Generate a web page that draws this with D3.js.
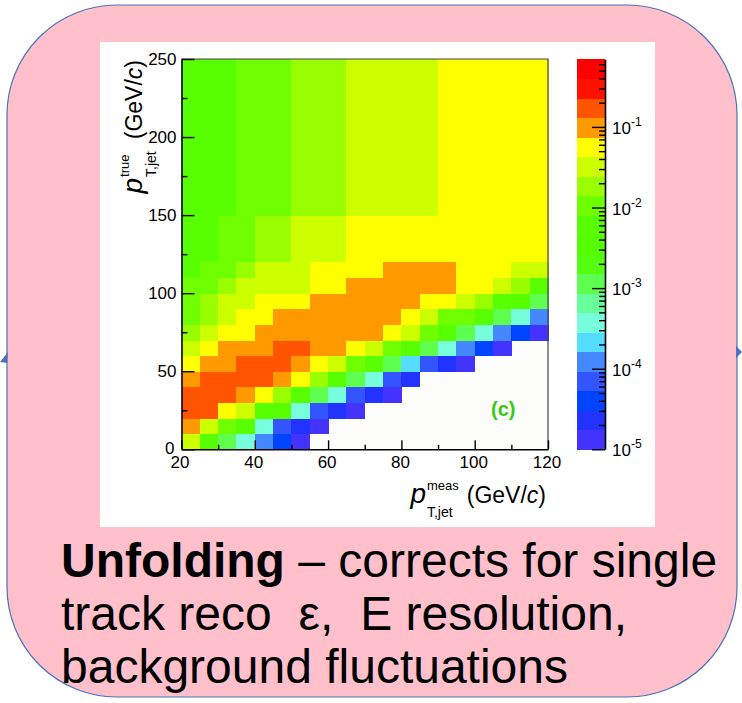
<!DOCTYPE html>
<html>
<head>
<meta charset="utf-8">
<script src="https://cdn.jsdelivr.net/npm/d3@7"></script>
<style>
  body { margin: 0; background: #fff; }
  svg { display: block; font-family: "Liberation Sans", Arial, Helvetica, sans-serif; }
</style>
</head>
<body>
<svg id="chart" width="742" height="703"></svg>
<script>
// bin edges (GeV/c)
const xEdges = [20, 25, 30, 35, 40, 45, 50, 55, 60, 65, 70, 75, 80, 85, 90, 95, 100, 105, 110, 115, 120];
const yEdges = [0, 10, 20, 30, 40, 50, 60, 70, 80, 90, 100, 110, 120, 150, 250];

// response matrix, one row per true bin (bottom -> top), one value per meas bin; null = empty
const response = [
  [0.03, 0.006, 0.001, 4e-4, 1.2e-4, 4e-5, 1.3e-5, null, null, null, null, null, null, null, null, null, null, null, null, null],
  [0.1, 0.03, 0.01, 0.006, 4e-4, 7e-5, 2.2e-5, 1.3e-5, null, null, null, null, null, null, null, null, null, null, null, null],
  [0.18, 0.18, 0.055, 0.03, 0.006, 0.006, 4e-4, 7e-5, 2.2e-5, 1.3e-5, null, null, null, null, null, null, null, null, null, null],
  [0.18, 0.18, 0.18, 0.1, 0.055, 0.018, 0.006, 0.001, 4e-4, 7e-5, 2.2e-5, 1.3e-5, null, null, null, null, null, null, null, null],
  [0.1, 0.18, 0.18, 0.18, 0.18, 0.1, 0.055, 0.018, 0.006, 0.001, 4e-4, 7e-5, 2.2e-5, null, null, null, null, null, null, null],
  [0.055, 0.1, 0.1, 0.18, 0.18, 0.18, 0.1, 0.055, 0.03, 0.01, 0.006, 0.001, 2e-4, 7e-5, 2.2e-5, 1.3e-5, null, null, null, null],
  [0.03, 0.055, 0.1, 0.1, 0.1, 0.18, 0.18, 0.1, 0.1, 0.055, 0.03, 0.01, 0.006, 0.001, 4e-4, 1.2e-4, 4e-5, 1.3e-5, null, null],
  [0.018, 0.03, 0.055, 0.055, 0.1, 0.1, 0.1, 0.1, 0.1, 0.1, 0.1, 0.055, 0.03, 0.01, 0.006, 0.001, 4e-4, 1.2e-4, 4e-5, 1.3e-5],
  [0.01, 0.018, 0.03, 0.055, 0.055, 0.1, 0.1, 0.1, 0.1, 0.1, 0.1, 0.1, 0.055, 0.03, 0.01, 0.01, 0.006, 0.001, 4e-4, 1.2e-4],
  [0.01, 0.018, 0.03, 0.03, 0.055, 0.055, 0.055, 0.1, 0.1, 0.1, 0.1, 0.1, 0.1, 0.055, 0.055, 0.03, 0.018, 0.006, 0.006, 0.001],
  [0.01, 0.01, 0.018, 0.03, 0.03, 0.03, 0.03, 0.055, 0.055, 0.1, 0.1, 0.1, 0.1, 0.1, 0.1, 0.055, 0.055, 0.03, 0.018, 0.006],
  [0.006, 0.01, 0.01, 0.018, 0.03, 0.03, 0.03, 0.055, 0.055, 0.055, 0.055, 0.1, 0.1, 0.1, 0.1, 0.055, 0.055, 0.055, 0.03, 0.03],
  [0.006, 0.006, 0.01, 0.01, 0.018, 0.018, 0.03, 0.03, 0.03, 0.055, 0.055, 0.055, 0.055, 0.055, 0.055, 0.055, 0.055, 0.055, 0.055, 0.055],
  [0.006, 0.006, 0.006, 0.01, 0.01, 0.01, 0.018, 0.018, 0.018, 0.03, 0.03, 0.03, 0.03, 0.03, 0.055, 0.055, 0.055, 0.055, 0.055, 0.055]
];

// 20-step palette, low -> high
const palette = ['#4433ff', '#2233ff', '#0044ff', '#3355ff', '#4488ff', '#55ddff', '#77ffdd', '#66ff99',
  '#5fff50', '#55ff11', '#55ff00', '#58ff00', '#70ff00', '#99ff00', '#ccff00', '#ffff00',
  '#ff9900', '#ff5500', '#ff1100', '#ff0000'];
const zRange = [1e-5, 0.69];

const xTicks = [20, 40, 60, 80, 100, 120];
const xMinor = [30, 50, 70, 90, 110];
const yTicks = [0, 50, 100, 150, 200, 250];
const yMinor = [25, 75, 125, 175, 225];
const zTicks = [1e-5, 1e-4, 1e-3, 1e-2, 1e-1];
const zExp = ['-5', '-4', '-3', '-2', '-1'];

const panelTag = '(c)';
const captionBold = 'Unfolding';
const captionLine1 = ' – corrects for single';
const captionLine2 = ['track reco', ' ε,', ' E resolution,'];
const captionLine3 = 'background fluctuations';

const svg = d3.select('#chart');

// pink rounded box + little connector marks
svg.append('rect')
  .attr('x', 7).attr('y', 5).attr('width', 730).attr('height', 692).attr('rx', 110)
  .attr('fill', '#ffc0cb').attr('stroke', '#4a72b8').attr('stroke-width', 1.2);
svg.append('path').attr('d', 'M0,362 L8,352 L7,363 Z').attr('fill', '#4a72b8');
svg.append('path').attr('d', 'M736,346 L742,352 L736,358 Z').attr('fill', '#4a72b8');

// white figure panel
svg.append('rect').attr('x', 100).attr('y', 42).attr('width', 555).attr('height', 485).attr('fill', '#fff');

const x = d3.scaleLinear().domain([20, 120]).range([181.5, 548]);
const y = d3.scaleLinear().domain([0, 250]).range([449.3, 59]);
const logDomain = [Math.log10(zRange[0]), Math.log10(zRange[1])];
const bandIdx = d3.scaleQuantize().domain(logDomain).range(d3.range(palette.length));
const color = v => palette[bandIdx(Math.log10(v))];

// plot background
svg.append('rect')
  .attr('x', x(20)).attr('y', y(250)).attr('width', x(120) - x(20)).attr('height', y(0) - y(250))
  .attr('fill', '#fdfdfb');

const cells = [];
response.forEach((row, r) => row.forEach((v, c) => {
  if (v != null) cells.push({ x0: xEdges[c], x1: xEdges[c + 1], y0: yEdges[r], y1: yEdges[r + 1], v });
}));

svg.append('g').attr('class', 'cells')
  .attr('shape-rendering', 'crispEdges')
  .selectAll('rect')
  .data(cells)
  .join('rect')
  .attr('x', d => x(d.x0))
  .attr('y', d => y(d.y1))
  .attr('width', d => x(d.x1) - x(d.x0) + 0.5)
  .attr('height', d => y(d.y0) - y(d.y1) + 0.5)
  .attr('fill', d => color(d.v));

// frame top/right
svg.append('path')
  .attr('d', `M${x(20)},${y(250)}H${x(120)}V${y(0)}`)
  .attr('fill', 'none').attr('stroke', '#444').attr('stroke-width', 1.2);

function styleAxis(g, size) {
  g.attr('font-family', null).attr('font-size', size);
  g.selectAll('path.domain').attr('stroke', '#000').attr('stroke-width', 1.6);
  g.selectAll('.tick line').attr('stroke', '#000').attr('stroke-width', 1.4);
  g.selectAll('.tick text').attr('fill', '#000');
}

// x axis
svg.append('g').attr('transform', `translate(0,${y(0)})`)
  .call(d3.axisBottom(x).tickValues(xMinor).tickSize(-4.5).tickSizeOuter(0).tickFormat(''))
  .call(g => g.select('.domain').remove())
  .call(g => styleAxis(g, 17));
svg.append('g').attr('transform', `translate(0,${y(0)})`)
  .call(d3.axisBottom(x).tickValues(xTicks).tickSize(-9).tickSizeOuter(0).tickPadding(7).tickFormat(d3.format('d')))
  .call(g => styleAxis(g, 17))
  .call(g => g.selectAll('.tick text').attr('dx', d => d === 20 ? -2 : -1.5));

// y axis
svg.append('g').attr('transform', `translate(${x(20)},0)`)
  .call(d3.axisLeft(y).tickValues(yMinor).tickSize(-6).tickSizeOuter(0).tickFormat(''))
  .call(g => g.select('.domain').remove())
  .call(g => styleAxis(g, 17));
svg.append('g').attr('transform', `translate(${x(20)},0)`)
  .call(d3.axisLeft(y).tickValues(yTicks).tickSize(-13).tickSizeOuter(0).tickPadding(5).tickFormat(d3.format('d')))
  .call(g => styleAxis(g, 17))
  .call(g => g.selectAll('.tick text').attr('dx', d => d === 0 ? -2 : 0).attr('dy', d => d === 0 ? '0.22em' : '0.32em'));

// axis titles: p with sup/sub, then (GeV/c)
function pTitle(g, sup, sub, gap) {
  const p = g.append('text').attr('x', 0).attr('y', 0).attr('font-size', 28).attr('font-style', 'italic').text('p');
  const pw = p.node().getComputedTextLength() + 1;
  const t1 = g.append('text').attr('x', pw).attr('y', -13).attr('font-size', 13).text(sup);
  const t2 = g.append('text').attr('x', pw).attr('y', 14).attr('font-size', 14).text(sub);
  const w = pw + Math.max(t1.node().getComputedTextLength(), t2.node().getComputedTextLength()) + gap;
  const u = g.append('text').attr('x', w).attr('y', 0).attr('font-size', 23);
  u.append('tspan').text('(GeV/');
  u.append('tspan').attr('font-style', 'italic').text('c');
  u.append('tspan').text(')');
  return w + u.node().getComputedTextLength();
}

const xt = svg.append('g');
const xw = pTitle(xt, 'meas', 'T,jet', 8);
xt.attr('transform', `translate(${546 - xw},503)`);

const yt = svg.append('g');
const yw = pTitle(yt, 'true', 'T,jet', 12);
yt.attr('transform', `translate(142,${60 + yw}) rotate(-90)`);

// panel tag
svg.append('text')
  .attr('x', 491).attr('y', 416)
  .attr('font-size', 20).attr('font-weight', 'bold').attr('fill', '#33cc11')
  .text(panelTag);

// colour bar
const z = d3.scaleLog().domain(zRange).range([449.3, 59.3]);
const zLog = d3.scaleLinear().domain(logDomain).range([449.3, 59.3]);
const bands = palette.map((c, i) => {
  const [a, b] = bandIdx.invertExtent(i);
  return { c, top: zLog(b), bottom: zLog(a) };
});
svg.append('g').attr('shape-rendering', 'crispEdges')
  .selectAll('rect')
  .data(bands)
  .join('rect')
  .attr('x', 577).attr('width', 28)
  .attr('y', d => d.top).attr('height', d => d.bottom - d.top + 0.5)
  .attr('fill', d => d.c);

const zMinor = z.ticks(40).filter(t => !zTicks.includes(t));
svg.append('g').attr('transform', 'translate(605,0)')
  .call(d3.axisRight(z).tickValues(zMinor).tickSize(-6).tickSizeOuter(0).tickFormat(''))
  .call(g => g.select('.domain').remove())
  .call(g => styleAxis(g, 17));
svg.append('g').attr('transform', 'translate(605,0)')
  .call(d3.axisRight(z).tickValues(zTicks).tickSize(-13).tickSizeOuter(0).tickFormat(''))
  .call(g => styleAxis(g, 17));

const zl = svg.append('g').selectAll('text')
  .data(zTicks)
  .join('text')
  .attr('x', 612)
  .attr('y', d => z(d) + 7)
  .attr('font-size', 17);
zl.append('tspan').text('10');
zl.append('tspan').attr('font-size', 12).attr('dy', -8).text((d, i) => zExp[i]);

// caption
const cap = svg.append('g').attr('font-size', 48).attr('fill', '#000');
const l1 = cap.append('text').attr('x', 61).attr('y', 577);
l1.append('tspan').attr('font-weight', 'bold').text(captionBold);
l1.append('tspan').text(captionLine1);

const l2 = cap.append('text').attr('x', 61).attr('y', 630);
l2.append('tspan').text(captionLine2[0]);
const eps = l2.append('tspan').text(captionLine2[1]);
const rest = l2.append('tspan').text(captionLine2[2]);
// the slide's line is a little wider than this font gives; open up the two word gaps
const extra = Math.max(0, 566 - l2.node().getComputedTextLength());
eps.attr('dx', extra * 0.5);
rest.attr('dx', extra * 0.5);

cap.append('text').attr('x', 61).attr('y', 683).text(captionLine3);
</script>
</body>
</html>
